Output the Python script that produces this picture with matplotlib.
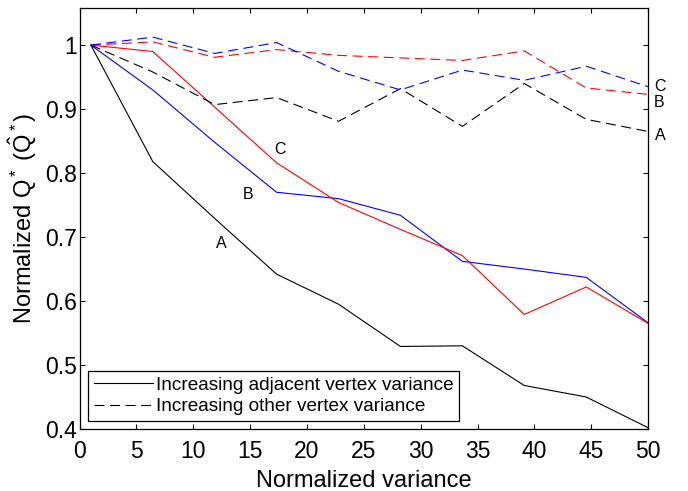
import numpy as np
import matplotlib
matplotlib.use('Agg')
import matplotlib.pyplot as plt
from matplotlib.ticker import FuncFormatter

plt.rcParams['font.family'] = ['Liberation Sans', 'DejaVu Sans']
plt.rcParams['mathtext.fontset'] = 'custom'
plt.rcParams['mathtext.rm'] = 'Liberation Sans'
plt.rcParams['mathtext.it'] = 'Liberation Sans:italic'

# normalized variance steps
x = [1, 6.44, 11.89, 17.33, 22.78, 28.22, 33.67, 39.11, 44.56, 50]

# solid lines: increasing adjacent vertex variance
adj_A = [1.0, 0.818, 0.729, 0.642, 0.595, 0.529, 0.530, 0.468, 0.450, 0.402]
adj_B = [1.0, 0.930, 0.848, 0.770, 0.760, 0.734, 0.662, 0.650, 0.637, 0.566]
adj_C = [1.0, 0.990, 0.903, 0.816, 0.754, 0.712, 0.671, 0.579, 0.622, 0.565]

# dashed lines: increasing other vertex variance
oth_A = [1.0, 0.958, 0.907, 0.918, 0.881, 0.932, 0.873, 0.940, 0.884, 0.865]
oth_B = [1.0, 1.005, 0.981, 0.993, 0.984, 0.980, 0.976, 0.991, 0.933, 0.923]
oth_C = [1.0, 1.0125, 0.987, 1.004, 0.959, 0.930, 0.961, 0.945, 0.967, 0.935]

dash = (0, (9, 5))
lw = 0.8

fig = plt.figure(figsize=(6.88, 4.91), dpi=100)
ax = fig.add_axes([0.1156, 0.1263, 0.8264, 0.8574])

l1, = ax.plot(x, adj_A, color='k', lw=lw)
ax.plot(x, adj_B, color='b', lw=lw)
ax.plot(x, adj_C, color='r', lw=lw)
l2, = ax.plot(x, oth_A, color='k', lw=lw, linestyle=dash)
ax.plot(x, oth_B, color='r', lw=lw, linestyle=dash)
ax.plot(x, oth_C, color='b', lw=lw, linestyle=dash)

# curve labels
fs_lab = 11.5
ax.text(12.5, 0.690, 'A', fontsize=fs_lab, ha='center', va='center')
ax.text(14.8, 0.767, 'B', fontsize=fs_lab, ha='center', va='center')
ax.text(17.6, 0.837, 'C', fontsize=fs_lab, ha='center', va='center')
ax.text(50.5, 0.935, 'C', fontsize=fs_lab, ha='left', va='center', clip_on=False)
ax.text(50.5, 0.910, 'B', fontsize=fs_lab, ha='left', va='center', clip_on=False)
ax.text(50.6, 0.859, 'A', fontsize=fs_lab, ha='left', va='center', clip_on=False)

ax.set_xlim(0, 50)
ax.set_ylim(0.4, 1.058)
ax.set_xticks(np.arange(0, 51, 5))
ax.set_yticks([0.4, 0.5, 0.6, 0.7, 0.8, 0.9, 1.0])
ax.yaxis.set_major_formatter(FuncFormatter(lambda v, p: '%g' % round(v, 2)))
ax.tick_params(direction='in', top=True, right=True, length=3.6, width=0.8,
               labelsize=16.5)
ax.tick_params(axis='x', pad=8)
ax.tick_params(axis='y', pad=2)
for s in ax.spines.values():
    s.set_linewidth(0.9)

ax.set_xlabel('Normalized variance', fontsize=17, labelpad=5)
ax.set_ylabel(r'Normalized Q$^*$ ($\hat{\mathrm{Q}}^*$)', fontsize=17, labelpad=4)

leg = ax.legend([l1, l2], ['Increasing adjacent vertex variance',
                           'Increasing other vertex variance'],
                loc='lower left', bbox_to_anchor=(0.015, 0.019), borderaxespad=0,
                fontsize=13.7, handlelength=3.1, handletextpad=0.15,
                labelspacing=0.2, borderpad=0.3, fancybox=False, framealpha=1)
leg.get_frame().set_edgecolor('k')
leg.get_frame().set_linewidth(0.9)

fig.savefig('out.png', dpi=100)
